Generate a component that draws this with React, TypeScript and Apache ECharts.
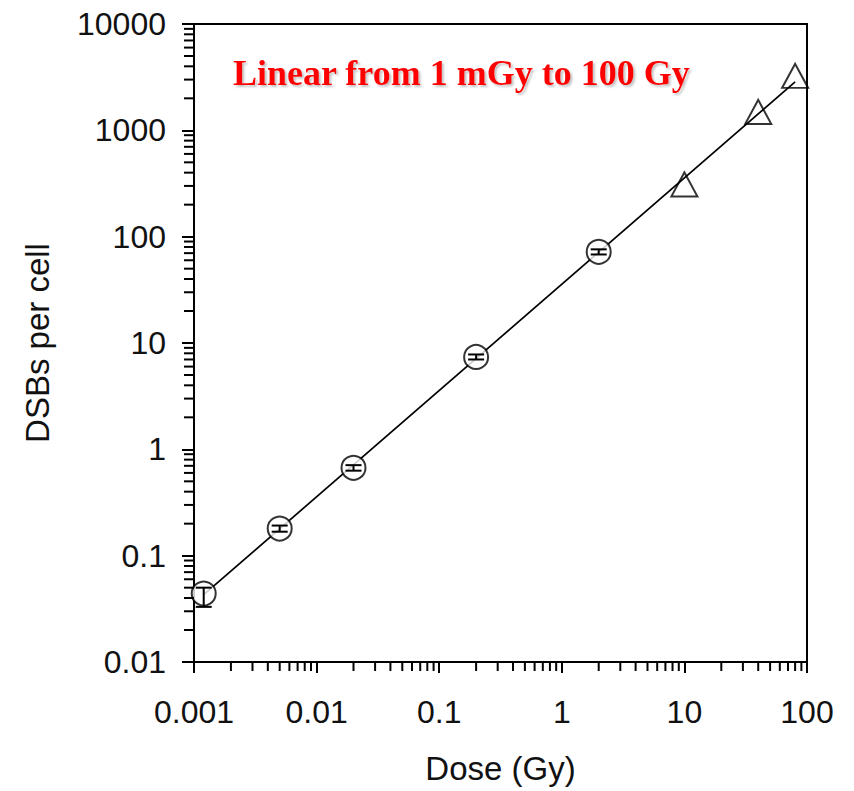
import React, { useEffect, useRef } from "react";
import * as echarts from "echarts";

// Measured data (dose in Gy, DSBs per cell)
const circleDose = [0.0012, 0.005, 0.02, 0.2, 2];
const circleDSB = [0.044, 0.18, 0.67, 7.4, 72];
const circleErrLow = [0.033, 0.168, 0.63, 7.0, 68];
const circleErrHigh = [0.05, 0.192, 0.71, 7.8, 76];

const triDose = [10, 40, 80];
const triDSB = [310, 1490, 3250];

const fitDose = [0.0012, 80];
const fitDSB = [0.043, 2850];

const xTickValues = [0.001, 0.01, 0.1, 1, 10, 100];
const xTickLabels = ["0.001", "0.01", "0.1", "1", "10", "100"];
const yTickValues = [0.01, 0.1, 1, 10, 100, 1000, 10000];
const yTickLabels = ["0.01", "0.1", "1", "10", "100", "1000", "10000"];

const minorMultipliers = [2, 3, 4, 5, 6, 7, 8, 9];

const titleText = "Linear from 1 mGy to 100 Gy";
const xName = "Dose (Gy)";
const yName = "DSBs per cell";

function labelFor(values: number[], labels: string[], v: number): string {
  let best = 0;
  let bestD = Infinity;
  values.forEach((t, i) => {
    const d = Math.abs(Math.log10(t) - Math.log10(v));
    if (d < bestD) {
      bestD = d;
      best = i;
    }
  });
  return labels[best];
}

function minorTicks(values: number[]): number[] {
  const out: number[] = [];
  for (let i = 0; i < values.length - 1; i++) {
    minorMultipliers.forEach((m) => out.push(values[i] * m));
  }
  return out;
}

export default function App() {
  const ref = useRef<HTMLDivElement>(null);

  useEffect(() => {
    if (!ref.current) return;
    const chart = echarts.init(ref.current, undefined, { renderer: "svg" });
    const xMin = xTickValues[0];
    const xMax = xTickValues[xTickValues.length - 1];
    const yMin = yTickValues[0];
    const yMax = yTickValues[yTickValues.length - 1];
    const xMinor = minorTicks(xTickValues);
    const yMinor = minorTicks(yTickValues);

    const font = "Liberation Sans, Arial, sans-serif";

    const option: any = {
      animation: false,
      backgroundColor: "#ffffff",
      title: {
        text: titleText,
        left: 233,
        top: 55,
        padding: 0,
        textStyle: {
          fontFamily: "Liberation Serif, Times New Roman, serif",
          fontWeight: "bold",
          fontSize: 36,
          color: "#ff0000",
          textShadowColor: "rgba(120,120,120,0.45)",
          textShadowOffsetX: 2,
          textShadowOffsetY: 2,
          textShadowBlur: 2,
        },
      },
      grid: {
        left: 194,
        top: 24,
        width: 613,
        height: 638,
        show: true,
        borderColor: "#000",
        borderWidth: 2,
        backgroundColor: "transparent",
      },
      xAxis: {
        type: "log",
        logBase: 10,
        min: xMin,
        max: xMax,
        splitNumber: 5,
        name: xName,
        nameLocation: "middle",
        nameGap: 90,
        nameTextStyle: { fontFamily: font, fontSize: 33, color: "#111" },
        axisLine: { show: true, onZero: false, lineStyle: { color: "#000", width: 2 } },
        axisTick: { show: true, inside: false, length: 11, lineStyle: { color: "#000", width: 2 } },
        minorTick: { show: false },
        splitLine: { show: false },
        axisLabel: {
          margin: 34,
          fontFamily: font,
          fontSize: 32,
          color: "#111",
          formatter: (v: number) => labelFor(xTickValues, xTickLabels, v),
        },
      },
      yAxis: {
        type: "log",
        logBase: 10,
        min: yMin,
        max: yMax,
        splitNumber: 6,
        name: yName,
        nameLocation: "middle",
        nameGap: 140,
        nameTextStyle: { fontFamily: font, fontSize: 33, color: "#111" },
        axisLine: { show: true, onZero: false, lineStyle: { color: "#000", width: 2 } },
        axisTick: { show: true, inside: false, length: 12, lineStyle: { color: "#000", width: 2 } },
        minorTick: { show: false },
        splitLine: { show: false },
        axisLabel: {
          margin: 28,
          fontFamily: font,
          fontSize: 32,
          color: "#111",
          formatter: (v: number) => labelFor(yTickValues, yTickLabels, v),
        },
      },
      series: [
        {
          type: "custom",
          name: "xMinor",
          clip: false,
          silent: true,
          z: 5,
          data: xMinor.map((v) => [v, yMin]),
          renderItem: (params: any, api: any) => {
            const p = api.coord([api.value(0), api.value(1)]);
            return {
              type: "line",
              shape: { x1: p[0], y1: p[1], x2: p[0], y2: p[1] + 9 },
              style: { stroke: "#000", lineWidth: 2 },
            };
          },
        },
        {
          type: "custom",
          name: "yMinor",
          clip: false,
          silent: true,
          z: 5,
          data: yMinor.map((v) => [xMin, v]),
          renderItem: (params: any, api: any) => {
            const p = api.coord([api.value(0), api.value(1)]);
            return {
              type: "line",
              shape: { x1: p[0] - 10, y1: p[1], x2: p[0], y2: p[1] },
              style: { stroke: "#000", lineWidth: 2 },
            };
          },
        },
        {
          type: "line",
          name: "fit",
          data: fitDose.map((d, i) => [d, fitDSB[i]]),
          showSymbol: false,
          symbol: "none",
          lineStyle: { color: "#000", width: 1.7 },
          z: 2,
        },
        {
          type: "scatter",
          name: "triangles",
          data: triDose.map((d, i) => [d, triDSB[i]]),
          symbol: "triangle",
          symbolSize: [26, 24],
          itemStyle: { color: "rgba(0,0,0,0)", borderColor: "#000", borderWidth: 2 },
          z: 3,
        },
        {
          type: "scatter",
          name: "circles",
          data: circleDose.map((d, i) => [d, circleDSB[i]]),
          symbol: "circle",
          symbolSize: 24,
          itemStyle: { color: "#fff", borderColor: "#000", borderWidth: 2 },
          z: 3,
        },
        {
          type: "custom",
          name: "errors",
          clip: false,
          silent: true,
          z: 4,
          data: circleDose.map((d, i) => [d, circleErrLow[i], circleErrHigh[i]]),
          renderItem: (params: any, api: any) => {
            const lo = api.coord([api.value(0), api.value(1)]);
            const hi = api.coord([api.value(0), api.value(2)]);
            const w = 8;
            const st = { stroke: "#000", lineWidth: 2 };
            return {
              type: "group",
              children: [
                { type: "line", shape: { x1: lo[0], y1: lo[1], x2: hi[0], y2: hi[1] }, style: st },
                { type: "line", shape: { x1: lo[0] - w, y1: lo[1], x2: lo[0] + w, y2: lo[1] }, style: st },
                { type: "line", shape: { x1: hi[0] - w, y1: hi[1], x2: hi[0] + w, y2: hi[1] }, style: st },
              ],
            };
          },
        },
      ],
    };

    chart.setOption(option);
    return () => chart.dispose();
  }, []);

  return (
    <div
      ref={ref}
      style={{ position: "absolute", left: 0, top: 0, width: 854, height: 791, background: "#fff" }}
    />
  );
}
